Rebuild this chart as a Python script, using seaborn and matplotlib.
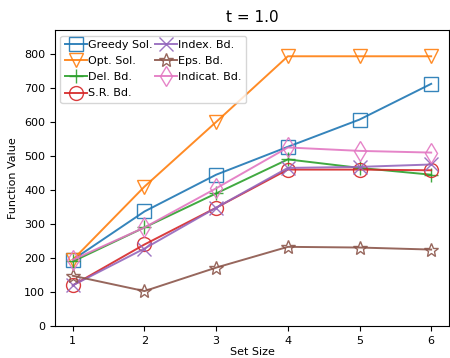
import matplotlib
matplotlib.use("Agg")
import matplotlib.pyplot as plt
import seaborn as sns
import pandas as pd

set_size = [1, 2, 3, 4, 5, 6]
greedy = [195, 337, 445, 527, 607, 712]
opt = [195, 410, 600, 793, 793, 793]
delbd = [190, 290, 390, 490, 465, 445]
srbd = [120, 240, 348, 460, 460, 458]
indexbd = [120, 228, 348, 465, 468, 475]
epsbd = [148, 103, 172, 233, 231, 225]
indicat = [195, 290, 405, 525, 515, 510]

series = [
    ("Greedy Sol.", greedy, "s", "#1f77b4"),
    ("Opt. Sol.", opt, "v", "#ff7f0e"),
    ("Del. Bd.", delbd, "+", "#2ca02c"),
    ("S.R. Bd.", srbd, "o", "#d62728"),
    ("Index. Bd.", indexbd, "x", "#9467bd"),
    ("Eps. Bd.", epsbd, "*", "#8c564b"),
    ("Indicat. Bd.", indicat, "d", "#e377c2"),
]

fig = plt.figure(figsize=(4.5, 3.58), dpi=100)
ax = fig.add_axes([0.122, 0.089, 0.876, 0.827])
for name, vals, m, c in series:
    df = pd.DataFrame({"x": set_size, "y": vals})
    sns.lineplot(data=df, x="x", y="y", ax=ax, marker=m, markersize=10,
                 markerfacecolor="none", markeredgecolor=c, color=c,
                 markeredgewidth=1.0, label=name, linewidth=1.4, alpha=0.9)

ax.set_xlim(0.75, 6.25)
ax.set_ylim(0, 870)
ax.set_xticks(set_size)
ax.set_xlabel("Set Size", fontsize=8, labelpad=1)
ax.set_ylabel("Function Value", fontsize=8)
ax.tick_params(labelsize=8)
ax.set_title("t = 1.0", fontsize=11)
ax.legend(ncol=2, loc="upper left", fontsize=8, handlelength=2,
          columnspacing=0.2, handletextpad=0.1, labelspacing=0.55,
          borderaxespad=0.5, borderpad=0.4)
fig.savefig("out.png", dpi=100)
